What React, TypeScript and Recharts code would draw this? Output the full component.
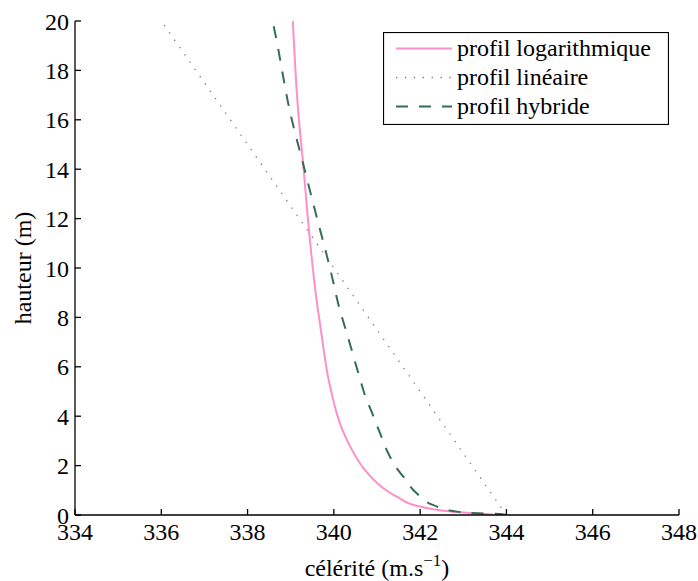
import { LineChart, Line, XAxis, YAxis, Legend } from "recharts";

const FONT = "'Liberation Serif'";

const xTicks = [334, 336, 338, 340, 342, 344, 346, 348];
const yTicks = [0, 2, 4, 6, 8, 10, 12, 14, 16, 18, 20];

// profil logarithmique (hauteur m, célérité m/s)
const logHeights = [0.02, 0.13, 0.34, 0.74, 1.15, 1.82, 2.7, 3.44, 5.47, 7.49, 8.7, 12.15, 14.2, 16.2, 20];
const logSpeeds = [343.69, 342.77, 342.0, 341.46, 341.1, 340.72, 340.4, 340.2, 339.88, 339.7, 339.6, 339.39, 339.29, 339.18, 339.05];

// profil linéaire
const linHeights = [0, 5, 10, 15, 20];
const linSpeeds = [344, 342, 340, 338, 336];

// profil hybride
const hybHeights = [0, 0.04, 0.07, 0.16, 0.4, 0.88, 1.55, 1.89, 2.5, 3.31, 3.98, 4.86, 5.79, 7.36, 8.3, 10, 12.15, 14.2, 16.2, 19.5, 20];
const hybSpeeds = [344.0, 343.85, 343.31, 342.77, 342.31, 341.92, 341.61, 341.46, 341.26, 341.07, 340.92, 340.72, 340.56, 340.3, 340.14, 339.91, 339.59, 339.29, 339.0, 338.64, 338.58];

const toPoints = (hs: number[], cs: number[]) => hs.map((h, i) => ({ h, c: cs[i] }));

const series = [
  { name: "profil logarithmique", data: toPoints(logHeights, logSpeeds), color: "#ff8fc8", width: 2, dash: undefined },
  { name: "profil linéaire", data: toPoints(linHeights, linSpeeds), color: "#8a6a88", width: 1.3, dash: "1.3 7.6" },
  { name: "profil hybride", data: toPoints(hybHeights, hybSpeeds), color: "#336e52", width: 2, dash: "12 11" },
];

const axisStyle = { stroke: "#000", strokeWidth: 1.3 };
const tickStyle = { fontSize: 24, fill: "#000" };

const css = `
#root .chart-root .recharts-wrapper,
#root .chart-root .recharts-wrapper svg,
#root .chart-root .recharts-wrapper svg text,
#root .chart-root .recharts-wrapper svg tspan,
#root .chart-root .recharts-wrapper text,
#root .chart-root .recharts-wrapper tspan {
  font-family: 'Liberation Serif', serif !important;
}
`;

const renderLegend = () => (
  <svg width={286} height={93} style={{ display: "block" }}>
    <rect x={0.5} y={0.5} width={285} height={92} fill="#fff" stroke="#000" strokeWidth={1.2} />
    {series.map((s, i) => {
      const y = 16.5 + i * 29;
      return (
        <g key={s.name}>
          <line x1={13} x2={69} y1={y} y2={y} stroke={s.color} strokeWidth={s.width} strokeDasharray={s.dash} />
          <text x={74} y={y + 7} fontFamily={FONT} fontSize={24} fill="#000">
            {s.name}
          </text>
        </g>
      );
    })}
  </svg>
);

const XLabel = (props: any) => {
  const vb = props.viewBox;
  return (
    <text x={vb.x + vb.width / 2} y={vb.y + 61} textAnchor="middle" fontFamily={FONT} fontSize={24} fill="#000">
      célérité (m.s
      <tspan dy={-10} fontSize={17}>−1</tspan>
      <tspan dy={10}>)</tspan>
    </text>
  );
};

const YLabel = (props: any) => {
  const vb = props.viewBox;
  const cx = 31;
  const cy = vb.y + vb.height / 2;
  return (
    <text x={cx} y={cy} textAnchor="middle" transform={`rotate(-90, ${cx}, ${cy})`} fontFamily={FONT} fontSize={24} fill="#000">
      hauteur (m)
    </text>
  );
};

export default function App() {
  return (
    <div className="chart-root" style={{ position: "absolute", left: 0, top: 0, background: "#fff" }}>
      <style>{css}</style>
      <LineChart width={698} height={581} margin={{ top: 21, right: 19, bottom: 0, left: 0 }}>
        <XAxis
          xAxisId="bottom"
          type="number"
          dataKey="c"
          domain={[334, 348]}
          ticks={xTicks}
          allowDataOverflow
          height={66}
          tickSize={-6}
          tickMargin={14}
          axisLine={axisStyle}
          tickLine={axisStyle}
          tick={tickStyle}
          label={{ content: XLabel }}
        />
        <XAxis
          xAxisId="top"
          orientation="top"
          type="number"
          dataKey="c"
          domain={[334, 348]}
          ticks={xTicks}
          allowDataOverflow
          height={0}
          tickSize={-6}
          axisLine={axisStyle}
          tickLine={axisStyle}
          tick={false}
        />
        <YAxis
          yAxisId="left"
          type="number"
          domain={[0, 20]}
          ticks={yTicks}
          allowDataOverflow
          width={75}
          tickSize={-6}
          tickMargin={12}
          axisLine={axisStyle}
          tickLine={axisStyle}
          tick={tickStyle}
          label={{ content: YLabel }}
        />
        <YAxis
          yAxisId="right"
          orientation="right"
          type="number"
          domain={[0, 20]}
          ticks={yTicks}
          allowDataOverflow
          width={0}
          tickSize={-6}
          axisLine={axisStyle}
          tickLine={axisStyle}
          tick={false}
        />
        {series.map((s) => (
          <Line
            key={s.name}
            xAxisId="bottom"
            yAxisId="left"
            name={s.name}
            data={s.data}
            dataKey="h"
            type="monotoneY"
            stroke={s.color}
            strokeWidth={s.width}
            strokeDasharray={s.dash}
            dot={false}
            activeDot={false}
            isAnimationActive={false}
          />
        ))}
        <Legend
          layout="vertical"
          align="center"
          verticalAlign="middle"
          content={renderLegend}
          wrapperStyle={{ position: "absolute", left: 383, top: 32, width: 286, height: 93 }}
        />
      </LineChart>
    </div>
  );
}
